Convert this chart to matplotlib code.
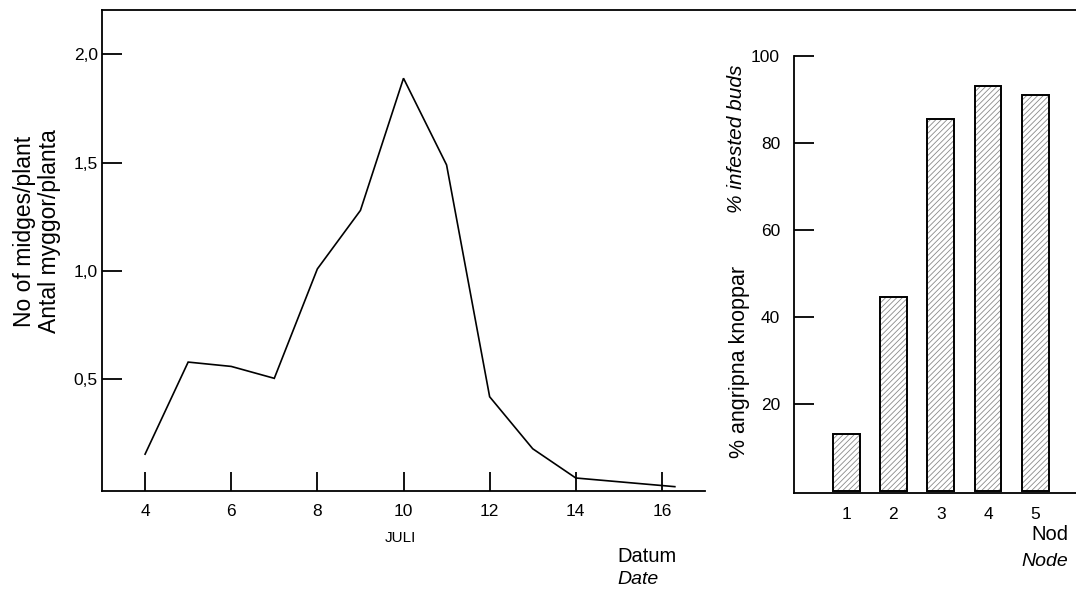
"""Midge counts per plant over July and infested buds per node."""
import matplotlib
matplotlib.use("Agg")
import matplotlib.pyplot as plt
from matplotlib.lines import Line2D

plt.rcParams["font.family"] = ["Liberation Sans", "DejaVu Sans"]

# left panel: midges per plant by date in July
dates = [4, 5, 6, 7, 8, 9, 10, 11, 12, 13, 14, 16.3]
midges = [0.155, 0.58, 0.56, 0.505, 1.01, 1.28, 1.89, 1.49, 0.42, 0.18, 0.045, 0.005]
date_ticks = [4, 6, 8, 10, 12, 14, 16]
midge_ticks = [0.5, 1.0, 1.5, 2.0]
midge_labels = ["0,5", "1,0", "1,5", "2,0"]

# right panel: % infested buds per node
nodes = [1, 2, 3, 4, 5]
infested = [13, 44.5, 85.5, 93, 91]
pct_ticks = [20, 40, 60, 80, 100]

W, H = 1076, 594
fig = plt.figure(figsize=(W / 100, H / 100), dpi=100)


def px_axes(x0, y0, x1, y1):
    # pixel box (top-left origin) -> figure fraction axes
    return fig.add_axes([x0 / W, 1 - y1 / H, (x1 - x0) / W, (y1 - y0) / H])


def fx(x):
    return x / W


def fy(y):
    return 1 - y / H


# ---- left chart
ax = px_axes(102, 10, 705, 491)
ax.plot(dates, midges, color="black", lw=1.2, solid_joinstyle="miter")
ax.set_xlim(3, 17)
ax.set_ylim(-0.015, 2.205)
ax.set_xticks(date_ticks)
ax.set_yticks(midge_ticks)
ax.set_yticklabels(midge_labels)
ax.tick_params(axis="x", direction="in", length=13.5, width=1.3, pad=9, labelsize=12.5)
ax.tick_params(axis="y", direction="in", length=14.5, width=1.3, pad=3, labelsize=12.5)
for side in ("top", "right"):
    ax.spines[side].set_visible(False)
for side in ("left", "bottom"):
    ax.spines[side].set_linewidth(1.3)

fig.text(fx(37), fy(231), "No of midges/plant\nAntal myggor/planta",
         rotation=90, ha="center", va="center", multialignment="center",
         fontsize=16.5, linespacing=1.15)
fig.text(fx(400), fy(538), "JULI", ha="center", va="center", fontsize=11)
fig.text(fx(617), fy(557), "Datum", ha="left", va="center", fontsize=14.5)
fig.text(fx(617), fy(579), "Date", ha="left", va="center", fontsize=14, style="italic")

# frame line across the top
fig.add_artist(Line2D([fx(102), 1.0], [fy(10), fy(10)], color="black", lw=1.3,
                      transform=fig.transFigure))

# ---- right chart
bx = px_axes(794, 56, W, 493)
plt.rcParams["hatch.linewidth"] = 0.6
bx.bar(nodes, infested, width=0.57, color="white", edgecolor="#8a8a8a",
       hatch="//////", linewidth=0)
bx.bar(nodes, infested, width=0.57, fill=False, edgecolor="black", linewidth=1.4)
bx.set_xlim(-0.1, 5.86)
bx.set_ylim(-0.5, 100)
bx.set_xticks(nodes)
bx.set_yticks(pct_ticks)
bx.tick_params(axis="x", length=0, pad=10, labelsize=12.5)
bx.tick_params(axis="y", direction="in", length=14.5, width=1.3, pad=10, labelsize=12.5)
for side in ("top", "right"):
    bx.spines[side].set_visible(False)
for side in ("left", "bottom"):
    bx.spines[side].set_linewidth(1.3)

fig.text(fx(739), fy(362), "% angripna knoppar", rotation=90,
         ha="center", va="center", fontsize=15.5)
fig.text(fx(737), fy(139), "% infested buds", rotation=90,
         ha="center", va="center", fontsize=15, style="italic")
fig.text(fx(1068), fy(535), "Nod", ha="right", va="center", fontsize=14.5)
fig.text(fx(1068), fy(562), "Node", ha="right", va="center", fontsize=14, style="italic")

fig.savefig("out.png", dpi=100)
